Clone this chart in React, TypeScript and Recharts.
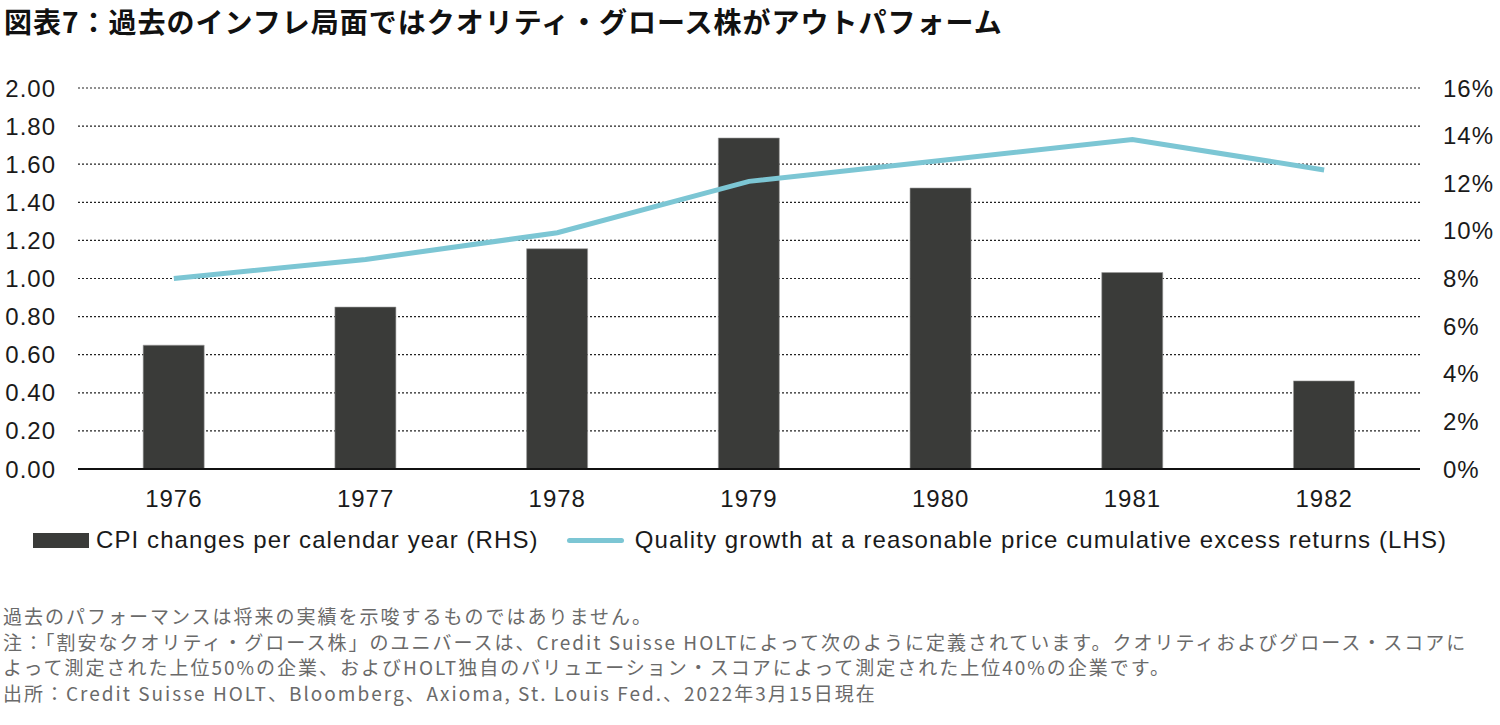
import { ComposedChart, Bar, Line, XAxis, YAxis, CartesianGrid } from 'recharts';

const years = ['1976', '1977', '1978', '1979', '1980', '1981', '1982'];
const cpiChange = [5.2, 6.8, 9.25, 13.9, 11.8, 8.25, 3.7];
const qualityGrowth = [1.0, 1.1, 1.24, 1.51, 1.62, 1.73, 1.57];
const leftTicks = [0, 0.2, 0.4, 0.6, 0.8, 1.0, 1.2, 1.4, 1.6, 1.8, 2.0];
const rightTicks = [0, 2, 4, 6, 8, 10, 12, 14, 16];

const title = '図表7：過去のインフレ局面ではクオリティ・グロース株がアウトパフォーム';
const notes = [
  '過去のパフォーマンスは将来の実績を示唆するものではありません。',
  '注：「割安なクオリティ・グロース株」のユニバースは、Credit Suisse HOLTによって次のように定義されています。クオリティおよびグロース・スコアに',
  'よって測定された上位50%の企業、およびHOLT独自のバリュエーション・スコアによって測定された上位40%の企業です。',
  '出所：Credit Suisse HOLT、Bloomberg、Axioma, St. Louis Fed.、2022年3月15日現在',
];

const data = years.map((year, i) => ({
  year,
  cpi: cpiChange[i],
  quality: qualityGrowth[i],
}));

const BAR_COLOR = '#3a3b39';
const LINE_COLOR = '#7cc6d4';
const numFont = '"Liberation Sans", Arial, sans-serif';
const jpFont = '"Noto Sans CJK JP", sans-serif';
const tickStyle = { fontSize: 24, fill: '#1a1a1a', fontFamily: numFont, letterSpacing: '1px' };

const App = () => {
  return (
    <div style={{ position: 'absolute', left: 0, top: 0, width: 1500, height: 725, background: '#fff', overflow: 'hidden' }}>
      <div style={{ position: 'absolute', left: 4, top: 3, lineHeight: '36px', fontFamily: jpFont, fontWeight: 700, fontSize: 28, color: '#111', whiteSpace: 'nowrap', letterSpacing: '1px' }}>
        {title}
      </div>

      <div style={{ position: 'absolute', left: 0, top: 0 }}>
        <ComposedChart
          width={1500}
          height={520}
          data={data}
          margin={{ top: 88, right: 0, left: 0, bottom: 0 }}
          barCategoryGap="34%"
        >
          <CartesianGrid
            yAxisId="left"
            vertical={false}
            stroke="#222"
            strokeDasharray="2 2"
            strokeWidth={1.2}
          />
          <XAxis
            dataKey="year"
            height={51}
            tickLine={false}
            tickSize={0}
            tickMargin={21}
            axisLine={{ stroke: '#111', strokeWidth: 2 }}
            tick={tickStyle}
          />
          <YAxis
            yAxisId="left"
            orientation="left"
            width={78}
            domain={[0, 2]}
            ticks={leftTicks}
            interval={0}
            tickFormatter={(v: number) => v.toFixed(2)}
            axisLine={false}
            tickLine={false}
            tickSize={0}
            tickMargin={22}
            tick={tickStyle}
          />
          <YAxis
            yAxisId="right"
            orientation="right"
            width={80}
            domain={[0, 16]}
            ticks={rightTicks}
            interval={0}
            tickFormatter={(v: number) => `${v}%`}
            axisLine={false}
            tickLine={false}
            tickSize={0}
            tickMargin={23}
            tick={tickStyle}
          />
          <Bar
            yAxisId="right"
            dataKey="cpi"
            fill={BAR_COLOR}
            stroke="#9a9a9a"
            strokeWidth={0.6}
            isAnimationActive={false}
          />
          <Line
            yAxisId="left"
            type="linear"
            dataKey="quality"
            stroke={LINE_COLOR}
            strokeWidth={5}
            dot={false}
            activeDot={false}
            isAnimationActive={false}
          />
        </ComposedChart>
      </div>

      {/* legend */}
      <div style={{ position: 'absolute', left: 33, top: 526, height: 28, display: 'flex', alignItems: 'center', fontFamily: numFont, fontSize: 24, letterSpacing: '1.1px', color: '#1a1a1a', whiteSpace: 'nowrap' }}>
        <span style={{ display: 'inline-block', width: 56, height: 15, background: BAR_COLOR, marginRight: 7 }} />
        <span>CPI changes per calendar year (RHS)</span>
        <span style={{ display: 'inline-block', width: 57, height: 5, borderRadius: 3, background: LINE_COLOR, marginLeft: 28, marginRight: 11 }} />
        <span>Quality growth at a reasonable price cumulative excess returns (LHS)</span>
      </div>

      {/* notes */}
      <div style={{ position: 'absolute', left: 3, top: 603, fontFamily: jpFont, fontSize: 19, letterSpacing: '2px', color: '#6a6a6a', lineHeight: '25.7px', whiteSpace: 'nowrap' }}>
        {notes.map((n, i) => (
          <div key={i} style={{ height: 25.7 }}>{n}</div>
        ))}
      </div>
    </div>
  );
};

export default App;
